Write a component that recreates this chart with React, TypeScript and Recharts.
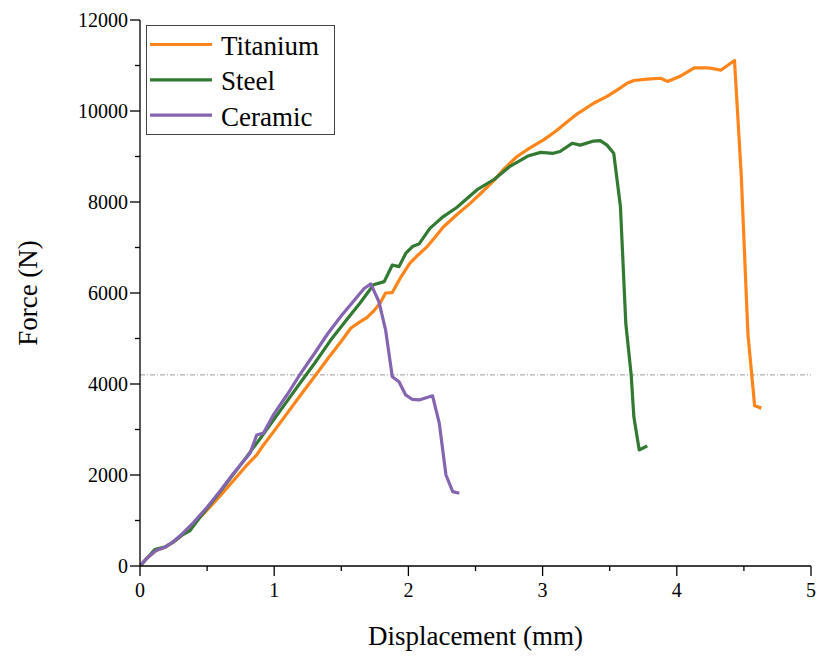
import React from 'react';
import { LineChart, Line, XAxis, YAxis, ReferenceLine, Legend } from 'recharts';

type P = { d: number; f: number };
const pts = (arr: number[][]): P[] => arr.map(([d, f]) => ({ d, f }));

const titaniumData = pts([
  [0, 0], [0.05, 170], [0.12, 340], [0.19, 420], [0.25, 530], [0.32, 700], [0.4, 930],
  [0.5, 1230], [0.6, 1550], [0.7, 1890], [0.8, 2230], [0.87, 2440], [0.91, 2620],
  [1.0, 2970], [1.1, 3370], [1.2, 3770], [1.3, 4160], [1.4, 4560], [1.5, 4940],
  [1.57, 5225], [1.63, 5350], [1.69, 5460], [1.74, 5600], [1.79, 5780], [1.83, 6000],
  [1.88, 6010], [1.94, 6330], [2.01, 6650], [2.07, 6830], [2.14, 7020], [2.2, 7230],
  [2.26, 7450], [2.36, 7720], [2.46, 7970], [2.55, 8220], [2.64, 8480], [2.72, 8750],
  [2.81, 9000], [2.9, 9180], [3.01, 9370], [3.1, 9560], [3.2, 9800], [3.25, 9920],
  [3.38, 10170], [3.48, 10320], [3.56, 10470], [3.63, 10610], [3.68, 10670],
  [3.78, 10700], [3.88, 10720], [3.93, 10650], [4.03, 10770], [4.13, 10950],
  [4.23, 10950], [4.33, 10900], [4.43, 11110], [4.48, 8600], [4.53, 5100],
  [4.58, 3520], [4.63, 3470],
]);

const steelData = pts([
  [0, 0], [0.05, 160], [0.11, 360], [0.19, 420], [0.25, 530], [0.32, 690], [0.37, 770],
  [0.45, 1080], [0.6, 1640], [0.8, 2420], [0.9, 2820], [1.0, 3230], [1.1, 3640],
  [1.2, 4050], [1.3, 4450], [1.42, 4960], [1.55, 5450], [1.64, 5780], [1.74, 6180],
  [1.82, 6250], [1.88, 6615], [1.93, 6580], [1.98, 6870], [2.03, 7020], [2.08, 7080],
  [2.16, 7420], [2.26, 7680], [2.36, 7880], [2.51, 8265], [2.64, 8500], [2.76, 8790],
  [2.89, 9010], [2.985, 9090], [3.08, 9070], [3.13, 9110], [3.22, 9290], [3.28, 9250],
  [3.38, 9340], [3.43, 9350], [3.48, 9250], [3.53, 9070], [3.58, 7900], [3.62, 5330],
  [3.66, 4200], [3.68, 3280], [3.72, 2550], [3.78, 2640],
]);

const ceramicData = pts([
  [0, 0], [0.05, 170], [0.12, 340], [0.19, 420], [0.25, 540], [0.32, 720], [0.4, 960],
  [0.5, 1290], [0.6, 1660], [0.7, 2050], [0.82, 2480], [0.87, 2880], [0.92, 2920],
  [1.0, 3350], [1.1, 3780], [1.19, 4200], [1.3, 4670], [1.4, 5110], [1.5, 5500],
  [1.6, 5850], [1.67, 6100], [1.72, 6200], [1.78, 5810], [1.83, 5190], [1.88, 4160],
  [1.93, 4050], [1.98, 3760], [2.03, 3660], [2.08, 3650], [2.18, 3740], [2.23, 3140],
  [2.28, 2000], [2.33, 1635], [2.38, 1600],
]);

const series = [
  { name: 'Titanium', color: '#FF851B', data: titaniumData },
  { name: 'Steel', color: '#327A32', data: steelData },
  { name: 'Ceramic', color: '#8564B1', data: ceramicData },
];

const xTicks = [0, 0.5, 1, 1.5, 2, 2.5, 3, 3.5, 4, 4.5, 5];
const yTicks = [0, 1000, 2000, 3000, 4000, 5000, 6000, 7000, 8000, 9000, 10000, 11000, 12000];
const thresholdForce = 4200;

const FONT = '"Liberation Serif", "Times New Roman", serif';
const MAJ = 10;
const MIN = 5;
const SW = 1.3;

const LeftTick = (props: any) => {
  const { x, y, payload } = props;
  const major = payload.value % 2000 === 0;
  return (
    <g>
      <line x1={x - (major ? MAJ : MIN)} x2={x} y1={y} y2={y} stroke="#000" strokeWidth={SW} />
      {major && (
        <text x={x - 12} y={y} dy="0.35em" textAnchor="end" fontSize={20} fontFamily={FONT} fill="#000">
          {payload.value}
        </text>
      )}
    </g>
  );
};

const RightTick = (props: any) => {
  const { x, y, payload } = props;
  const major = payload.value % 2000 === 0;
  return <line x1={x - (major ? MAJ : MIN)} x2={x} y1={y} y2={y} stroke="#000" strokeWidth={SW} />;
};

const BottomTick = (props: any) => {
  const { x, y, payload } = props;
  const major = Number.isInteger(payload.value);
  return (
    <g>
      <line x1={x} x2={x} y1={y} y2={y + (major ? MAJ : MIN)} stroke="#000" strokeWidth={SW} />
      {major && (
        <text x={x} y={y + 31} textAnchor="middle" fontSize={20} fontFamily={FONT} fill="#000">
          {payload.value}
        </text>
      )}
    </g>
  );
};

const TopTick = (props: any) => {
  const { x, y, payload } = props;
  const major = Number.isInteger(payload.value);
  return <line x1={x} x2={x} y1={y} y2={y + (major ? MAJ : MIN)} stroke="#000" strokeWidth={SW} />;
};

const YTitle = (props: any) => {
  const { viewBox } = props;
  const cx = 20;
  const cy = viewBox.y + viewBox.height / 2;
  return (
    <text
      x={cx}
      y={cy}
      transform={`rotate(-90 ${cx} ${cy})`}
      textAnchor="middle"
      dominantBaseline="central"
      fontSize={27}
      fontFamily={FONT}
      fill="#000"
    >
      Force (N)
    </text>
  );
};

const LegendBox = () => (
  <svg width={190} height={110} style={{ display: 'block' }}>
    <rect x={0.5} y={0.5} width={188} height={109} fill="#fff" stroke="#444" strokeWidth={1} />
    {series.map((s, i) => (
      <g key={s.name}>
        <line x1={4} x2={66} y1={19.5 + i * 35.3} y2={19.5 + i * 35.3} stroke={s.color} strokeWidth={3.2} />
        <text x={75} y={30 + i * 35.3} fontSize={27} fontFamily={FONT} fill="#000">
          {s.name}
        </text>
      </g>
    ))}
  </svg>
);

export default function App() {
  return (
    <div style={{ position: 'absolute', left: 0, top: 0, width: 818, height: 657, overflow: 'hidden', background: '#fff' }}>
      <div style={{ position: 'absolute', left: 8, top: 8 }}>
        <LineChart width={810} height={649} margin={{ top: 12, right: 7, bottom: 0, left: 0 }} style={{ overflow: 'visible' }}>
          <XAxis
            dataKey="d"
            type="number"
            domain={[0, 5]}
            ticks={xTicks}
            interval={0}
            height={91}
            tickSize={0}
            tickMargin={0}
            tickLine={false}
            tick={<BottomTick />}
            axisLine={{ stroke: '#000', strokeWidth: SW }}
            allowDataOverflow
            label={{
              value: 'Displacement (mm)',
              position: 'insideBottom',
              offset: 12,
              style: { fontSize: 27, fontFamily: FONT, fill: '#000' },
            }}
          />
          <XAxis
            xAxisId="top"
            orientation="top"
            dataKey="d"
            type="number"
            domain={[0, 5]}
            ticks={xTicks}
            interval={0}
            height={0}
            tickSize={0}
            tickMargin={0}
            tickLine={false}
            tick={<TopTick />}
            axisLine={{ stroke: '#000', strokeWidth: SW }}
          />
          <YAxis
            type="number"
            domain={[0, 12000]}
            ticks={yTicks}
            interval={0}
            width={132}
            tickSize={0}
            tickMargin={0}
            tickLine={false}
            tick={<LeftTick />}
            axisLine={{ stroke: '#000', strokeWidth: SW }}
            allowDataOverflow
            label={<YTitle />}
          />
          <YAxis
            yAxisId="right"
            orientation="right"
            type="number"
            domain={[0, 12000]}
            ticks={yTicks}
            interval={0}
            width={0}
            tickSize={0}
            tickMargin={0}
            tickLine={false}
            tick={<RightTick />}
            axisLine={{ stroke: '#000', strokeWidth: SW }}
          />
          <ReferenceLine y={thresholdForce} stroke="#9a9a9a" strokeWidth={1} strokeDasharray="5 2 1 2" />
          {series.map((s) => (
            <Line
              key={s.name}
              data={s.data}
              dataKey="f"
              name={s.name}
              type="linear"
              stroke={s.color}
              strokeWidth={3.2}
              strokeLinejoin="round"
              dot={false}
              activeDot={false}
              isAnimationActive={false}
            />
          ))}
          <Legend
            layout="vertical"
            align="center"
            verticalAlign="middle"
            content={<LegendBox />}
            wrapperStyle={{ position: 'absolute', left: 138, top: 17, width: 190, height: 110 }}
          />
        </LineChart>
      </div>
    </div>
  );
}
